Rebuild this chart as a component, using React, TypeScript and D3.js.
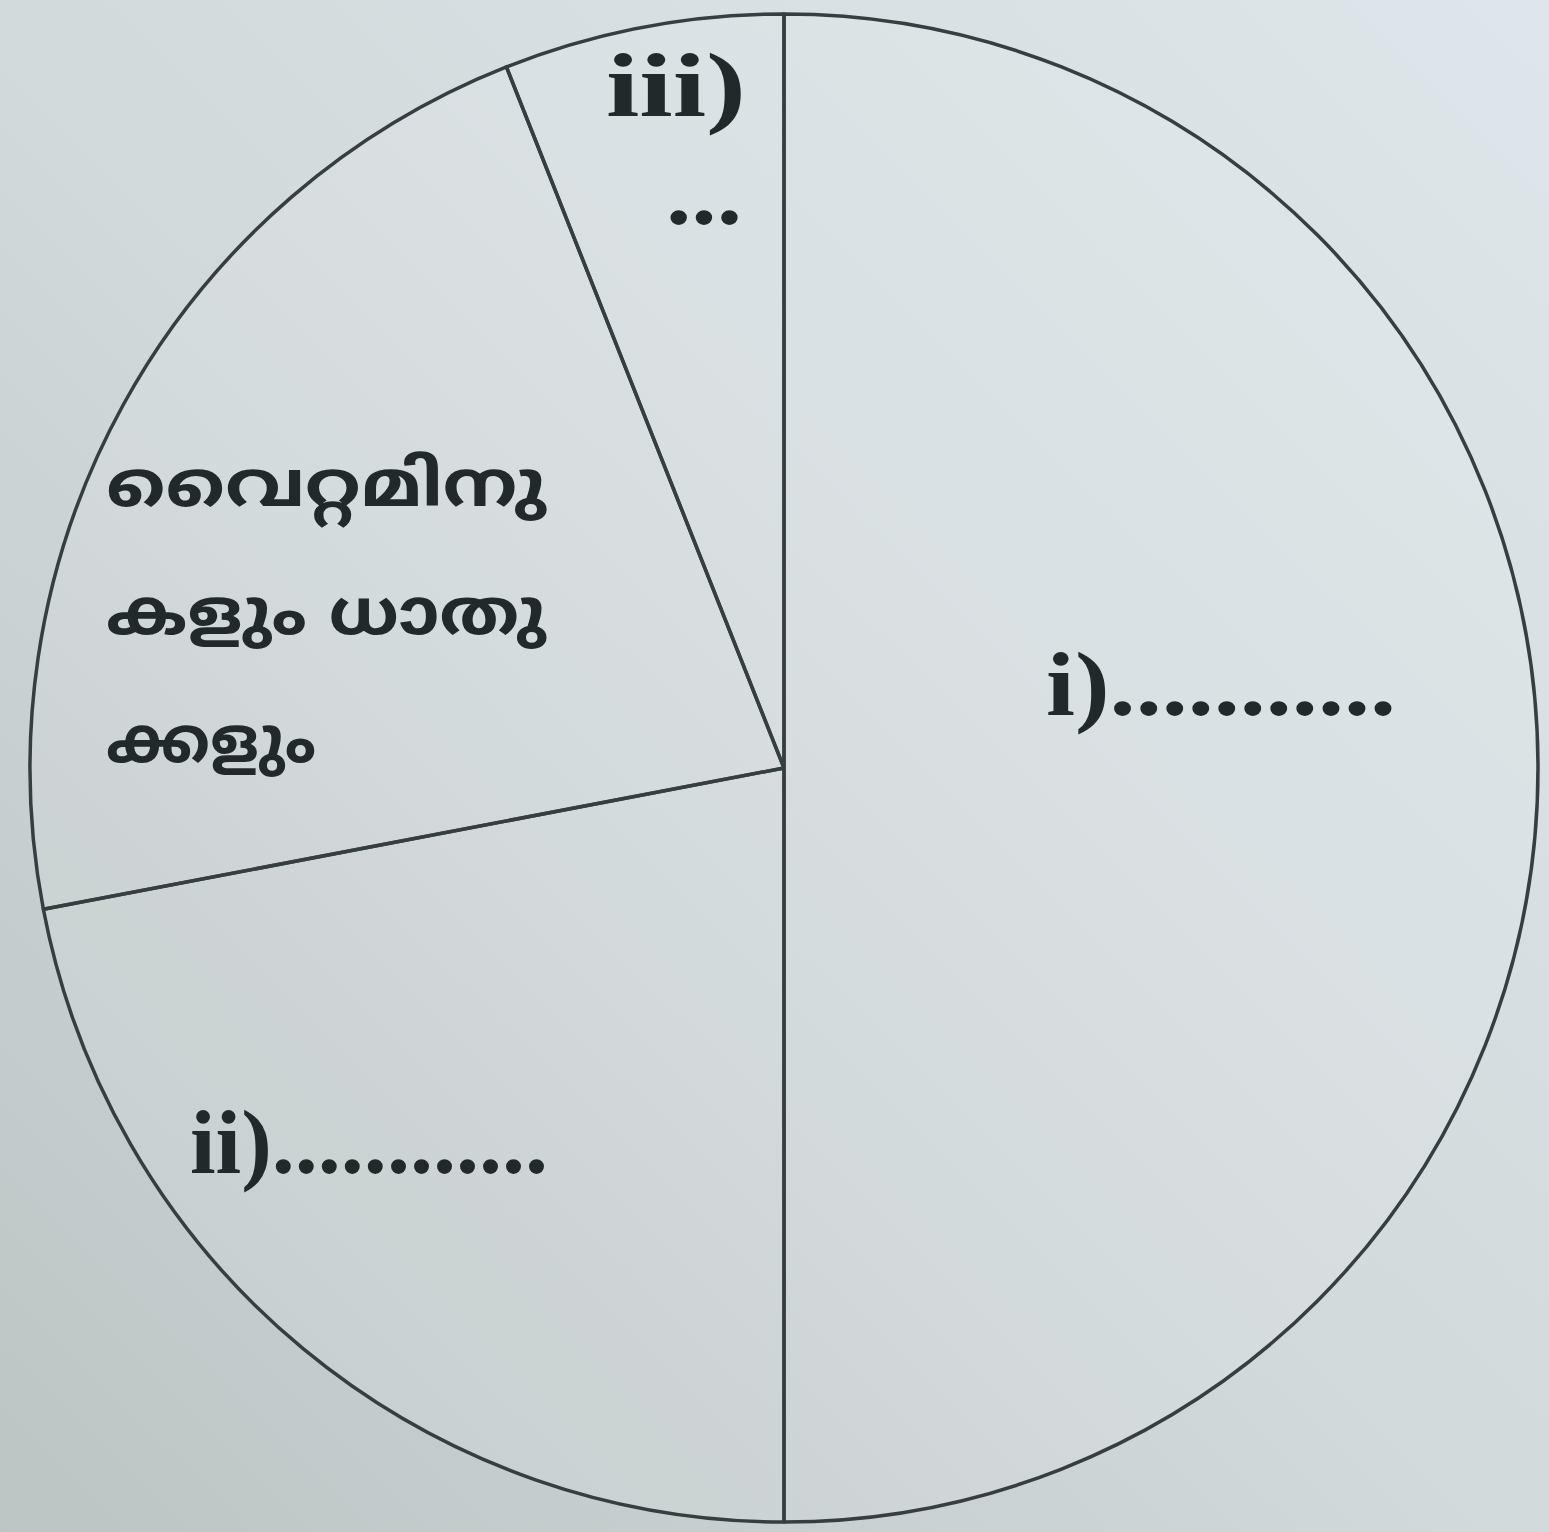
import * as d3 from 'd3';

// slices clockwise from 12 o'clock
const categories = ['i', 'ii', 'vitamins', 'iii'];
const shares = [50, 22, 22, 6];

// label text per slice (each entry = lines)
const labelLines = [
  ['i)...........'],
  ['ii)............'],
  ['വൈറ്റമിനു', 'കളും ധാതു', 'ക്കളും'],
  ['iii)', '...'],
];

const W = 1549;
const H = 1532;
const cx = 784;
const cy = 768;
const R = 754;

// where each label block sits, relative to the centre (x, first baseline, line gap, widths)
const labelLayout = [
  { x: 262, y: -53, gap: 0, size: 92, widths: [350] },
  { x: -594, y: 405, gap: 0, size: 92, widths: [358] },
  { x: -678, y: -262, gap: 128, size: 64, widths: [440, 440, 210] },
  { x: -178, y: -652, gap: 108, size: 92, widths: [140, 76] },
];

const serif = '"Liberation Serif", "DejaVu Serif", serif';
const mal = '"Noto Sans Malayalam", "Noto Serif Malayalam", "Lohit Malayalam", Meera, Rachana, "Noto Sans", sans-serif';

export default function App() {
  const pie = d3
    .pie<number>()
    .sort(null)
    .startAngle(0)
    .endAngle(2 * Math.PI)
    .value((d) => d);
  const arcs = pie(shares);
  const arc = d3.arc<d3.PieArcDatum<number>>().innerRadius(0).outerRadius(R);

  return (
    <svg
      width={W}
      height={H}
      style={{ position: 'absolute', left: 0, top: 0, display: 'block' }}
    >
      <defs>
        <linearGradient id="paper" x1="1" y1="0" x2="0" y2="1">
          <stop offset="0" stopColor="#dde6ea" />
          <stop offset="0.5" stopColor="#d3dadc" />
          <stop offset="1" stopColor="#bcc4c4" />
        </linearGradient>
      </defs>
      <rect width={W} height={H} fill="url(#paper)" />
      <g transform={`translate(${cx},${cy})`}>
        {arcs.map((a, i) => (
          <path
            key={categories[i]}
            d={arc(a) ?? ''}
            fill="#ffffff"
            fillOpacity={0.1}
            stroke="#353e40"
            strokeWidth={3.5}
            strokeLinejoin="round"
          />
        ))}
        {labelLines.map((lines, i) => {
          const L = labelLayout[i];
          const isMal = categories[i] === 'vitamins';
          return (
            <g key={categories[i]}>
              {lines.map((t, j) => {
                const isDots = t === '...';
                return (
                  <text
                    key={j}
                    x={isDots ? L.x + 60 : L.x}
                    y={L.y + j * L.gap}
                    fontFamily={isMal ? mal : serif}
                    fontSize={isDots ? 90 : L.size}
                    fontWeight="bold"
                    fill="#22292b"
                    textLength={L.widths[j]}
                    lengthAdjust="spacingAndGlyphs"
                  >
                    {t}
                  </text>
                );
              })}
            </g>
          );
        })}
      </g>
    </svg>
  );
}
